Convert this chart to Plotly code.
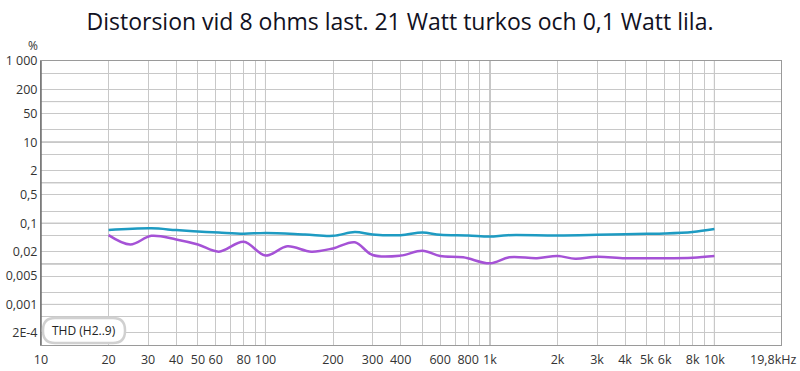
import numpy as np
import plotly.graph_objects as go

title_text = "Distorsion vid 8 ohms last. 21 Watt turkos och 0,1 Watt lila."

freq_teal = [20, 31, 40, 50, 62, 80, 100, 150, 200, 250, 300, 400, 500, 600, 800,
             1000, 1200, 2000, 3000, 4000, 5000, 6000, 8000, 10000]
thd_teal = [0.068, 0.075, 0.068, 0.063, 0.059, 0.055, 0.058, 0.053, 0.049, 0.061, 0.053,
            0.051, 0.059, 0.052, 0.050, 0.047, 0.051, 0.050, 0.052, 0.054, 0.055, 0.056,
            0.061, 0.072]

freq_purple = [20, 25, 31, 40, 50, 62, 80, 100, 125, 160, 200, 250, 300, 400, 500, 600,
               760, 1000, 1220, 1620, 2000, 2400, 3000, 4000, 5600, 8000, 10000]
thd_purple = [0.051, 0.030, 0.049, 0.040, 0.030, 0.020, 0.035, 0.016, 0.027, 0.020,
              0.024, 0.034, 0.0165, 0.016, 0.021, 0.0156, 0.0145, 0.0103, 0.0145, 0.0138,
              0.0156, 0.0134, 0.0150, 0.0138, 0.0138, 0.0142, 0.0156]

x_grid = [20, 30, 40, 50, 60, 70, 80, 90, 100, 200, 300, 400, 500, 600, 700, 800, 900,
          1000, 2000, 3000, 4000, 5000, 6000, 7000, 8000, 9000, 10000, 19800]
x_labels = {10: "10", 20: "20", 30: "30", 40: "40", 50: "50", 60: "60", 80: "80", 100: "100",
            200: "200", 300: "300", 400: "400", 600: "600", 800: "800", 1000: "1k",
            2000: "2k", 3000: "3k", 4000: "4k", 5000: "5k", 6000: "6k", 8000: "8k",
            10000: "10k"}
x_end_freq = 19800
x_end_label = "19,8kHz"
x_decades = [100, 1000, 10000]

y_grid = [1e-4, 2e-4, 5e-4, 1e-3, 2e-3, 5e-3, 1e-2, 2e-2, 5e-2, 0.1, 0.2, 0.5, 1, 2, 5,
          10, 20, 50, 100, 200, 500, 1000]
y_labels = {2e-4: "2E-4", 1e-3: "0,001", 5e-3: "0,005", 2e-2: "0,02", 0.1: "0,1",
            0.5: "0,5", 2: "2", 10: "10", 50: "50", 200: "200", 1000: "1 000"}
y_decades = [1e-3, 1e-2, 0.1, 1, 10, 100]

teal = "#1e9bc2"
purple = "#a552d6"
font_family = "Open Sans, Noto Sans, sans-serif"

fig = go.Figure()
fig.add_trace(go.Scatter(x=freq_teal, y=thd_teal, mode="lines",
                         line=dict(color=teal, width=2.5, shape="spline", smoothing=1),
                         showlegend=False, hoverinfo="skip"))
fig.add_trace(go.Scatter(x=freq_purple, y=thd_purple, mode="lines",
                         line=dict(color=purple, width=2.5, shape="spline", smoothing=1),
                         showlegend=False, hoverinfo="skip"))

xt = [10] + x_grid
fig.update_xaxes(type="log", range=[1 - 1e-6, np.log10(x_end_freq) + 1e-5], automargin=False,
                 tickmode="array", tickvals=xt,
                 ticktext=[x_labels.get(v, "") for v in xt],
                 showgrid=True, gridcolor="#c8c8c8", gridwidth=1,
                 showline=True, linecolor="#9a9a9a", linewidth=1, mirror=True,
                 ticks="", zeroline=False, ticklabelstandoff=3,
                 tickfont=dict(family=font_family, size=12.5, color="#333333"))
fig.update_yaxes(type="log", range=[-4 - 1e-6, 3 + 1e-6], automargin=False,
                 tickmode="array", tickvals=y_grid,
                 ticktext=[y_labels.get(v, "") for v in y_grid],
                 showgrid=True, gridcolor="#c8c8c8", gridwidth=1,
                 showline=True, linecolor="#9a9a9a", linewidth=1, mirror=True,
                 ticks="", zeroline=False,
                 tickfont=dict(family=font_family, size=12.5, color="#333333"))

shapes = []
for xv in x_decades:
    shapes.append(dict(type="line", xref="x", yref="paper", x0=xv, x1=xv, y0=0, y1=1,
                       line=dict(color="#808080", width=1), layer="between"))
for yv in y_decades:
    shapes.append(dict(type="line", xref="paper", yref="y", x0=0, x1=1, y0=yv, y1=yv,
                       line=dict(color="#808080", width=1), layer="between"))
# left axis darker
shapes.append(dict(type="line", xref="paper", yref="paper", x0=0, x1=0, y0=0, y1=1,
                   line=dict(color="#707070", width=1.5), layer="above"))

# rounded legend-like label box (paper coords)
W, H = 740.0, 284.0
bx0, bx1 = (43 - 41) / W, (125 - 41) / W
by0, by1 = (345 - 343) / H, (345 - 318) / H
rx, ry = 12 / W, 12 / H
path = (f"M {bx0+rx},{by0} L {bx1-rx},{by0} Q {bx1},{by0} {bx1},{by0+ry} "
        f"L {bx1},{by1-ry} Q {bx1},{by1} {bx1-rx},{by1} L {bx0+rx},{by1} "
        f"Q {bx0},{by1} {bx0},{by1-ry} L {bx0},{by0+ry} Q {bx0},{by0} {bx0+rx},{by0} Z")
shapes.append(dict(type="path", xref="paper", yref="paper", path=path,
                   fillcolor="white", line=dict(color="#d0d0d0", width=2.5), layer="above"))

fig.update_layout(
    width=800, height=371,
    margin=dict(l=41, r=19, t=61, b=26),
    paper_bgcolor="white", plot_bgcolor="white",
    title=dict(text=title_text, x=0.5, xanchor="center", y=1 - 22 / 371, yanchor="middle",
               yref="container",
               font=dict(family=font_family, size=23, color="#111122")),
    shapes=shapes,
    annotations=[
        dict(text="%", xref="paper", yref="paper", x=-8 / W, y=1 + 16 / H,
             xanchor="center", yanchor="middle", showarrow=False,
             font=dict(family=font_family, size=12, color="#333333")),
        dict(text="THD (H2..9)", xref="paper", yref="paper", x=(bx0 + bx1) / 2,
             y=(by0 + by1) / 2, xanchor="center", yanchor="middle", showarrow=False,
             font=dict(family=font_family, size=12, color="#222222")),
        dict(text=x_end_label, xref="x", yref="paper", x=np.log10(x_end_freq), y=-14 / H,
             xanchor="right", yanchor="middle", xshift=17, showarrow=False,
             font=dict(family=font_family, size=12.5, color="#333333")),
    ],
)

fig.write_html("out.html", config={"displayModeBar": False},
               post_script="document.body.style.margin='0';document.body.style.overflow='hidden';")
